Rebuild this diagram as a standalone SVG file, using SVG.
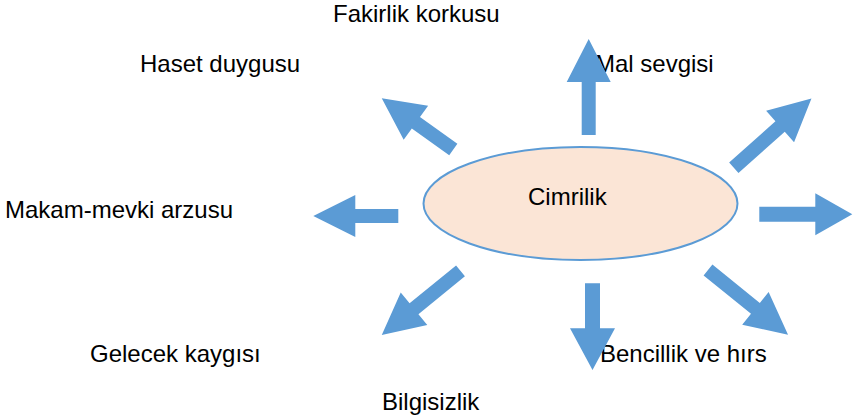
<svg xmlns="http://www.w3.org/2000/svg" width="853" height="420" viewBox="0 0 853 420">
<style>
.lbl{font-family:"Liberation Sans",Arial,sans-serif;font-size:24px;fill:#000}
.arr{fill:#5b9bd5;stroke:none}
</style>
<rect width="853" height="420" fill="#fff"/>
<g id="labels">
<text class="lbl" x="333" y="22">Fakirlik korkusu</text>
<text class="lbl" x="140" y="72">Haset duygusu</text>
<text class="lbl" x="595" y="72">Mal sevgisi</text>
<text class="lbl" x="5" y="218">Makam-mevki arzusu</text>
<text class="lbl" x="90" y="362">Gelecek kaygısı</text>
<text class="lbl" x="382" y="410">Bilgisizlik</text>
<text class="lbl" x="600" y="362">Bencillik ve hırs</text>
</g>
<g id="center">
<ellipse cx="580.5" cy="203.5" rx="157" ry="56.5" fill="#fbe5d6" stroke="#5b9bd5" stroke-width="2"/>
<text class="lbl" x="528" y="205">Cimrilik</text>
</g>
<g id="connectors">
<path class="arr" transform="translate(588.7,135) rotate(-90)" d="M0,-7H53V-22L96,0L53,22V7H0Z"/>
<path class="arr" transform="translate(733.8,167.7) rotate(-41.7)" d="M0,-7H62V-21L104,0L62,21V7H0Z"/>
<path class="arr" transform="translate(759.3,214.2)" d="M0,-7.5H56V-21L93,0L56,21V7.5H0Z"/>
<path class="arr" transform="translate(398.3,216) rotate(180)" d="M0,-7H43V-21L85,0L43,21V7H0Z"/>
<path class="arr" transform="translate(453.3,149.5) rotate(-144.4)" d="M0,-7H46V-21L88,0L46,21V7H0Z"/>
<path class="arr" transform="translate(460.5,270.8) rotate(140.8)" d="M0,-7H60V-21L101.6,0L60,21V7H0Z"/>
<path class="arr" transform="translate(592.5,283.3) rotate(90)" d="M0,-7.5H45V-22.5L86.7,0L45,22.5V7.5H0Z"/>
<path class="arr" transform="translate(708,270) rotate(39)" d="M0,-7H61V-21L103,0L61,21V7H0Z"/>
</g>
</svg>
